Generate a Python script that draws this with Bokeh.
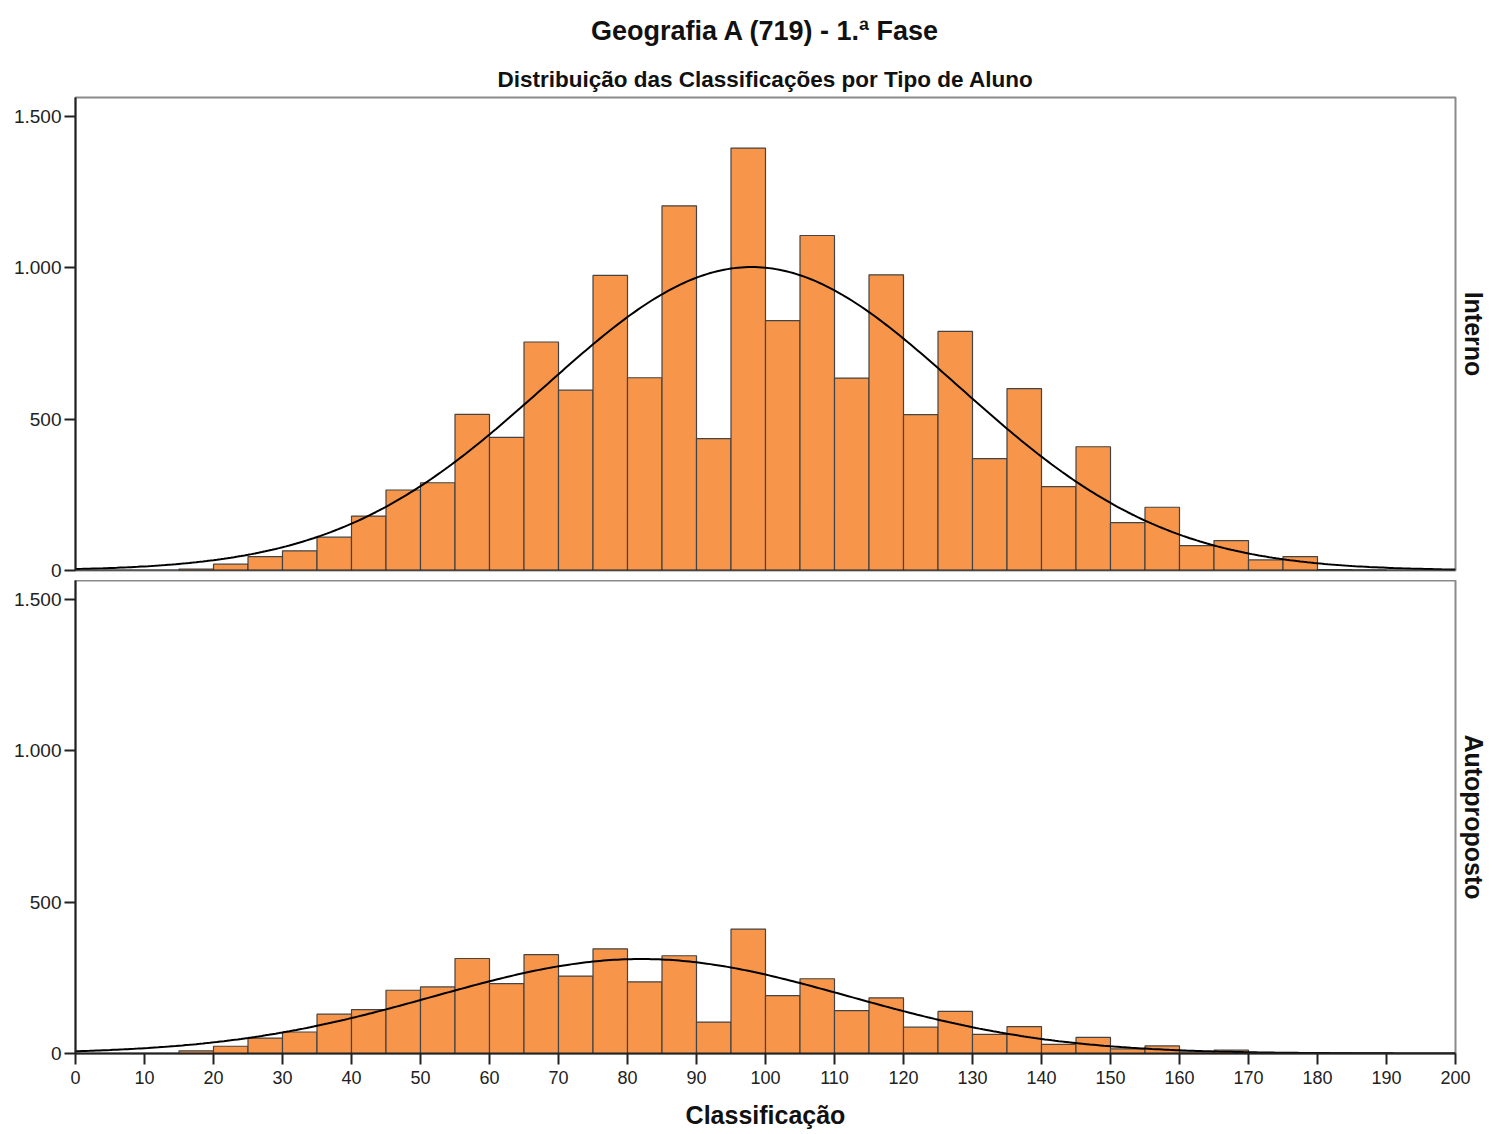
import numpy as np
from bokeh.plotting import figure
from bokeh.models import Title, Span, FixedTicker, ColumnDataSource
from bokeh.layouts import column
from bokeh.embed import file_html
from bokeh.resources import INLINE

# ---------------- data ----------------
bin_left = [0, 5, 10, 15, 20, 25, 30, 35, 40, 45, 50, 55, 60, 65, 70, 75, 80, 85, 90, 95,
            100, 105, 110, 115, 120, 125, 130, 135, 140, 145, 150, 155, 160, 165, 170, 175,
            180, 185, 190, 195]
bin_width = 5

interno_counts = [0, 0, 0, 5, 21, 46, 65, 110, 180, 266, 290, 516, 440, 755, 596, 975, 637,
                  1205, 436, 1396, 826, 1107, 636, 977, 515, 790, 370, 601, 277, 409, 158, 209,
                  82, 99, 35, 46, 3, 1, 0, 0]
autoproposto_counts = [0, 0, 0, 9, 24, 51, 71, 130, 145, 209, 220, 314, 231, 327, 256, 346, 237,
                       323, 104, 411, 191, 247, 142, 184, 87, 139, 63, 89, 30, 53, 15, 25,
                       5, 11, 2, 3, 1, 0, 0, 0]

# fitted normal curve parameters
interno_mean, interno_sd = 98.0, 30.0
autoproposto_mean, autoproposto_sd = 82.0, 30.0

x_ticks = [0, 10, 20, 30, 40, 50, 60, 70, 80, 90, 100, 110, 120, 130, 140, 150, 160, 170, 180, 190, 200]
y_ticks = [0, 500, 1000, 1500]
y_tick_labels = ["0", "500", "1.000", "1.500"]

main_title = "Geografia A (719) - 1.ª Fase"
sub_title = "Distribuição das Classificações por Tipo de Aluno"
x_label = "Classificação"
panel_labels = ["Interno", "Autoproposto"]

# ---------------- style ----------------
FONT = "Liberation Sans"
BAR_FILL = "#F7964A"
BAR_LINE = "#444444"
AXIS_COL = "#222222"
OUTLINE_COL = "#8a8a8a"
FRAME_W, FRAME_H = 1380, 473
Y_MAX = 1563


def make_panel(counts, mean, sd, label, top, bottom, bottom_axis):
    kw = dict(frame_width=FRAME_W, frame_height=FRAME_H, x_range=(0, 200), y_range=(0, Y_MAX),
              output_backend="svg", toolbar_location=None,
              min_border_left=75, min_border_right=38,
              min_border_top=top, min_border_bottom=bottom)
    if not bottom_axis:
        kw["x_axis_location"] = None
    p = figure(**kw)
    p.grid.visible = False
    p.background_fill_color = "white"
    p.border_fill_color = "white"
    p.outline_line_color = OUTLINE_COL
    p.outline_line_width = 2

    # bars
    lefts = [l for l, c in zip(bin_left, counts) if c > 0]
    tops = [c for c in counts if c > 0]
    src = ColumnDataSource(dict(left=lefts, right=[l + bin_width for l in lefts],
                                top=tops, bottom=[0] * len(tops)))
    p.quad(left="left", right="right", top="top", bottom="bottom", source=src,
           fill_color=BAR_FILL, line_color=BAR_LINE, line_width=1.2)

    # normal curve
    n = sum(counts)
    xc = np.linspace(0, 200, 401)
    yc = n * bin_width / (sd * np.sqrt(2 * np.pi)) * np.exp(-((xc - mean) ** 2) / (2 * sd ** 2))
    p.line(xc, yc, line_color="black", line_width=2)

    # y axis
    ya = p.yaxis[0]
    ya.ticker = FixedTicker(ticks=y_ticks)
    ya.major_label_overrides = {t: s for t, s in zip(y_ticks, y_tick_labels)}
    ya.major_tick_out = 11
    ya.major_tick_in = 0
    ya.minor_tick_out = 0
    ya.minor_tick_in = 0
    ya.major_label_standoff = 3
    ya.axis_line_color = AXIS_COL
    ya.axis_line_width = 2
    ya.major_tick_line_color = AXIS_COL
    ya.major_tick_line_width = 2
    ya.major_label_text_font = FONT
    ya.major_label_text_font_size = "19px"
    ya.major_label_text_color = "#222222"

    if bottom_axis:
        xa = p.xaxis[0]
        xa.ticker = FixedTicker(ticks=x_ticks)
        xa.major_tick_out = 11
        xa.major_tick_in = 0
        xa.minor_tick_out = 0
        xa.minor_tick_in = 0
        xa.major_label_standoff = 6
        xa.axis_line_color = AXIS_COL
        xa.axis_line_width = 2
        xa.major_tick_line_color = AXIS_COL
        xa.major_tick_line_width = 2
        xa.major_label_text_font = FONT
        xa.major_label_text_font_size = "18px"
        xa.major_label_text_color = "#222222"
        xa.axis_label = x_label
        xa.axis_label_text_font = FONT
        xa.axis_label_text_font_size = "25px"
        xa.axis_label_text_font_style = "bold"
        xa.axis_label_text_color = "#111111"
        xa.axis_label_standoff = 14
    else:
        p.add_layout(Span(location=0, dimension="width", line_color=AXIS_COL, line_width=2))

    p.add_layout(Title(text=label, align="center", text_font=FONT, text_font_size="25px",
                       text_font_style="bold", text_color="#111111", standoff=8, offset=0),
                 "right")
    return p


p1 = make_panel(interno_counts, interno_mean, interno_sd, panel_labels[0], 97, 10, False)
p1.title.text = main_title
p1.title.align = "center"
p1.title.text_font = FONT
p1.title.text_font_size = "27px"
p1.title.text_font_style = "bold"
p1.title.text_color = "#111111"
p1.title.standoff = 25
p1.add_layout(Title(text=sub_title, align="center", text_font=FONT, text_font_size="22.5px",
                    text_font_style="bold", text_color="#111111", standoff=12), "above")

p2 = make_panel(autoproposto_counts, autoproposto_mean, autoproposto_sd, panel_labels[1], 0, 76, True)

layout = column(p1, p2, spacing=0)

with open("out.html", "w") as f:
    f.write(file_html(layout, INLINE, title=main_title))
